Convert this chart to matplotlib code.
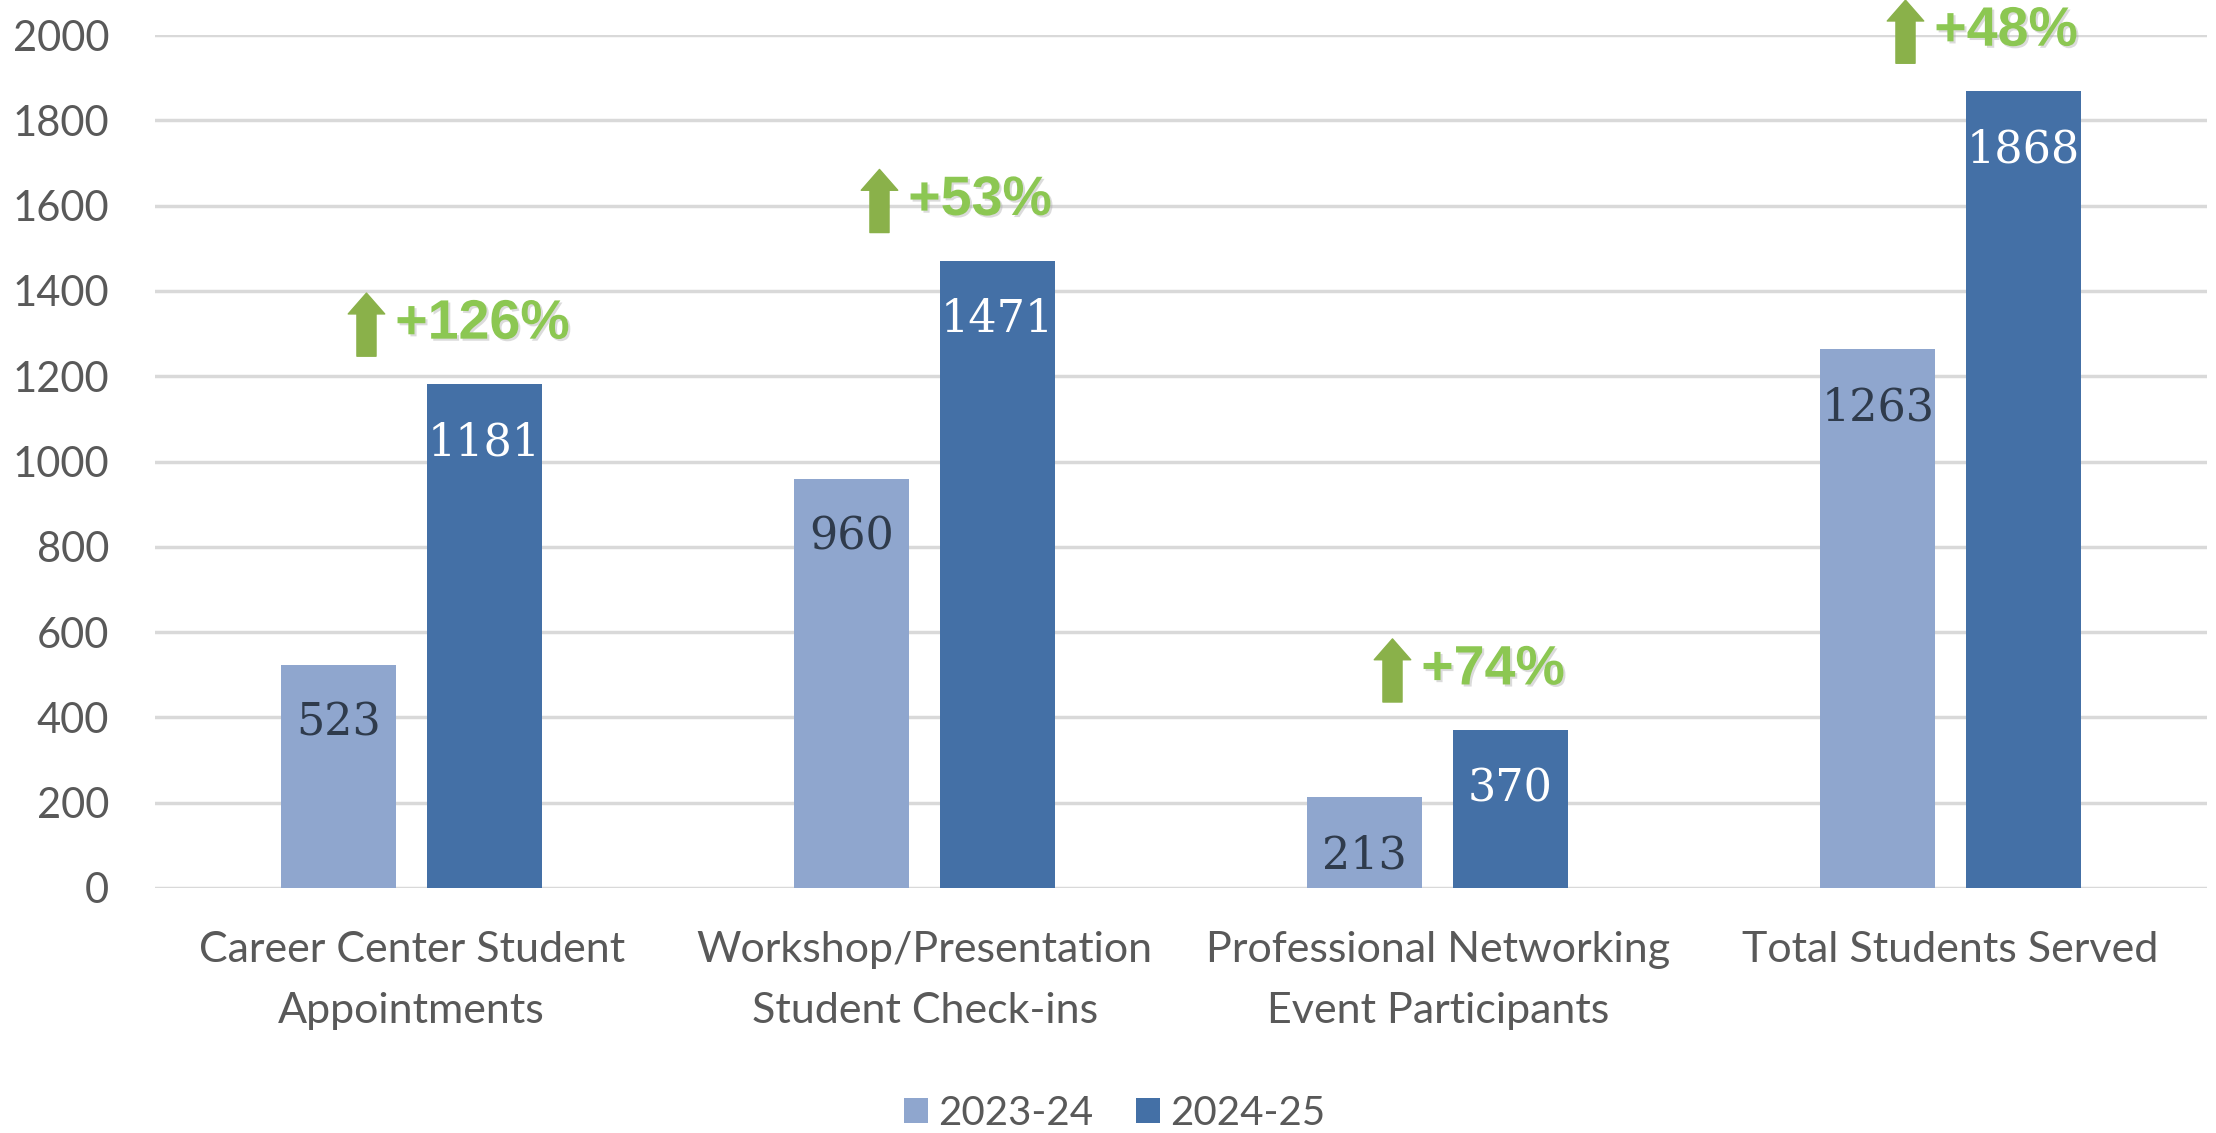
import matplotlib.pyplot as plt
import matplotlib.patheffects as pe
import numpy as np

categories = ["Career Center Student\nAppointments",
              "Workshop/Presentation\nStudent Check-ins",
              "Professional Networking\nEvent Participants",
              "Total Students Served"]
years = ["2023-24", "2024-25"]
prev = [523, 960, 213, 1263]
curr = [1181, 1471, 370, 1868]
growth = ["+126%", "+53%", "+74%", "+48%"]

light = "#8FA6CE"
dark = "#4470A6"
green_txt = "#8CC752"
green_arrow = "#8AB14A"
grey = "#595959"


def main():
    fig = plt.figure(figsize=(22.16, 11.33), dpi=100)
    ax = fig.add_axes([0.070, 0.2163, 0.926, 0.7527])

    x = np.arange(len(categories))
    w = 0.224
    off = 0.142
    b1 = ax.bar(x - off, prev, w, color=light, label=years[0], zorder=3)
    b2 = ax.bar(x + off, curr, w, color=dark, label=years[1], zorder=3)

    # value labels inside the bars
    for rect, v in zip(b1, prev):
        ax.annotate(str(v), (rect.get_x() + rect.get_width() / 2, v),
                    xytext=(0, -42), textcoords="offset points",
                    ha="center", va="center", fontsize=32,
                    family="DejaVu Serif", color="#2F3B4C", zorder=4)
    for rect, v in zip(b2, curr):
        ax.annotate(str(v), (rect.get_x() + rect.get_width() / 2, v),
                    xytext=(0, -42), textcoords="offset points",
                    ha="center", va="center", fontsize=32,
                    family="DejaVu Serif", color="white", zorder=4)

    # growth callouts above the 2024-25 bars
    for xi, v, g in zip(x, curr, growth):
        yc = v + 140
        ax.text(xi + off - 0.174, yc, g, ha="left", va="center",
                fontsize=40, fontweight="bold", family="Liberation Sans",
                color=green_txt, clip_on=False, zorder=5,
                path_effects=[pe.withSimplePatchShadow(offset=(1.5, -1.5),
                                                       shadow_rgbFace="#9a9a9a",
                                                       alpha=0.35)])
        ax.annotate("", xy=(xi + off - 0.23, yc + 74), xytext=(xi + off - 0.23, yc - 74),
                    arrowprops=dict(arrowstyle="simple,head_length=0.6,head_width=1.05,tail_width=0.55",
                                    mutation_scale=25, color=green_arrow,
                                    shrinkA=0, shrinkB=0),
                    annotation_clip=False, zorder=5)

    ax.set_xlim(-0.5, 3.5)
    ax.set_ylim(0, 2000)
    ax.set_yticks(range(0, 2001, 200))
    ax.set_xticks(x)
    ax.set_xticklabels(categories, fontsize=31, family="Lato", color=grey,
                       linespacing=1.75)
    for t in ax.get_yticklabels():
        t.set_fontsize(30)
        t.set_family("Lato")
        t.set_color(grey)
    ax.tick_params(axis="y", length=0, pad=33)
    ax.tick_params(axis="x", length=0, pad=31)
    ax.grid(axis="y", color="#D9D9D9", linewidth=2.5, zorder=0)
    for s in ax.spines.values():
        s.set_visible(False)

    fig.legend(handles=[b1, b2], labels=years, loc="center",
               bbox_to_anchor=(0.503, 0.0175), ncol=2, frameon=False,
               prop={"family": "Lato", "size": 29}, labelcolor=grey,
               handlelength=0.6, handleheight=0.6, handletextpad=0.25,
               columnspacing=1.05, borderpad=0)

    fig.savefig("out.png", dpi=100)


if __name__ == "__main__":
    main()
